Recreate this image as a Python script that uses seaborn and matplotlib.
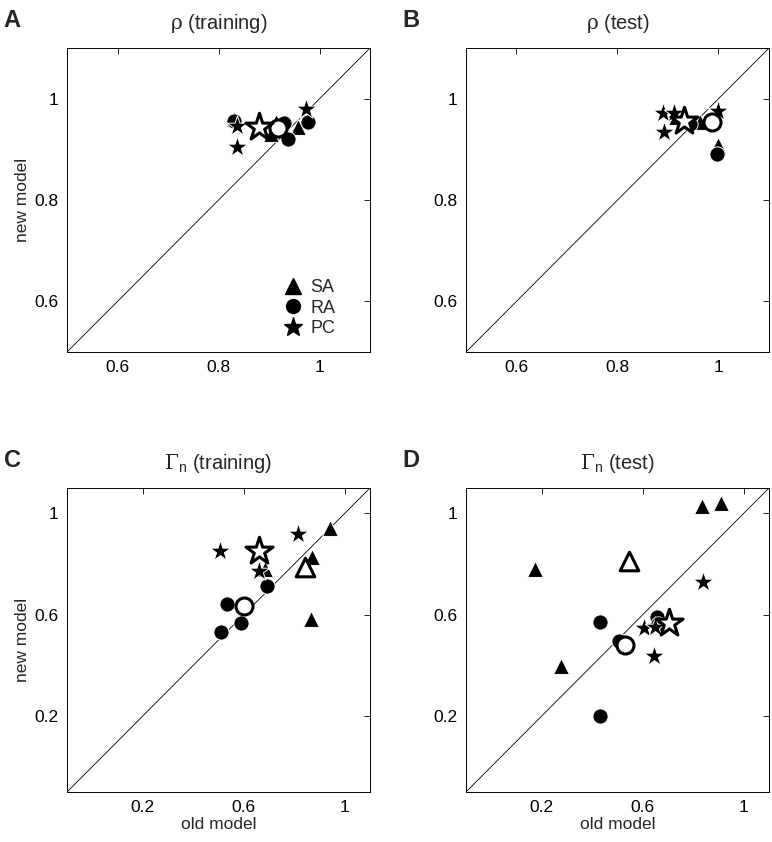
import seaborn as sns
sns.set_theme(style="white")

import matplotlib.pyplot as plt
from matplotlib.lines import Line2D

plt.rcParams['font.family'] = ['Liberation Sans', 'DejaVu Sans']
plt.rcParams['mathtext.fontset'] = 'custom'
plt.rcParams['mathtext.rm'] = 'DejaVu Serif'
plt.rcParams['mathtext.sf'] = 'Liberation Sans'

# Panel A: rho (training)
a_sa_x = [0.830, 0.903, 0.913, 0.958]
a_sa_y = [0.960, 0.930, 0.955, 0.945]
a_ra_x = [0.830, 0.929, 0.937, 0.978]
a_ra_y = [0.956, 0.952, 0.921, 0.954]
a_pc_x = [0.836, 0.836, 0.974]
a_pc_y = [0.947, 0.905, 0.980]
a_mean_ra = (0.917, 0.943)
a_mean_pc = (0.881, 0.945)

# Panel B: rho (test)
b_sa_x = [0.916, 0.963, 0.999]
b_sa_y = [0.964, 0.954, 0.909]
b_ra_x = [0.944, 0.997]
b_ra_y = [0.950, 0.891]
b_pc_x = [0.890, 0.912, 0.892, 0.999]
b_pc_y = [0.972, 0.972, 0.935, 0.976]
b_mean_ra = (0.987, 0.954)
b_mean_pc = (0.932, 0.956)

# Panel C: Gamma_n (training)
c_sa_x = [0.942, 0.870, 0.866, 0.685]
c_sa_y = [0.942, 0.827, 0.581, 0.780]
c_ra_x = [0.534, 0.589, 0.510, 0.692]
c_ra_y = [0.641, 0.569, 0.530, 0.712]
c_pc_x = [0.506, 0.815, 0.660]
c_pc_y = [0.850, 0.918, 0.771]
c_mean_sa = (0.843, 0.787)
c_mean_ra = (0.601, 0.633)
c_mean_pc = (0.660, 0.850)

# Panel D: Gamma_n (test)
d_sa_x = [0.173, 0.276, 0.835, 0.910]
d_sa_y = [0.779, 0.399, 1.029, 1.041]
d_ra_x = [0.431, 0.656, 0.431, 0.506, 0.660]
d_ra_y = [0.573, 0.589, 0.201, 0.498, 0.565]
d_pc_x = [0.839, 0.605, 0.645, 0.650]
d_pc_y = [0.728, 0.549, 0.435, 0.553]
d_mean_sa = (0.546, 0.811)
d_mean_ra = (0.530, 0.482)
d_mean_pc = (0.704, 0.569)

panels = [
    dict(letter='A', title=r'$\mathrm{ρ}$ (training)', pos=[0.0868, 0.5819],
         sa=(a_sa_x, a_sa_y), ra=(a_ra_x, a_ra_y), pc=(a_pc_x, a_pc_y),
         means=[('o', a_mean_ra), ('*', a_mean_pc)],
         lim=(0.5, 1.1), ticks=[0.6, 0.8, 1], labels=['0.6', '0.8', '1']),
    dict(letter='B', title=r'$\mathrm{ρ}$ (test)', pos=[0.6036, 0.5819],
         sa=(b_sa_x, b_sa_y), ra=(b_ra_x, b_ra_y), pc=(b_pc_x, b_pc_y),
         means=[('o', b_mean_ra), ('*', b_mean_pc)],
         lim=(0.5, 1.1), ticks=[0.6, 0.8, 1], labels=['0.6', '0.8', '1']),
    dict(letter='C', title=r'$\mathrm{Γ}_{\mathsf{n}}$ (training)', pos=[0.0868, 0.0594],
         sa=(c_sa_x, c_sa_y), ra=(c_ra_x, c_ra_y), pc=(c_pc_x, c_pc_y),
         means=[('^', c_mean_sa), ('o', c_mean_ra), ('*', c_mean_pc)],
         lim=(-0.1, 1.1), ticks=[0.2, 0.6, 1], labels=['0.2', '0.6', '1']),
    dict(letter='D', title=r'$\mathrm{Γ}_{\mathsf{n}}$ (test)', pos=[0.6036, 0.0594],
         sa=(d_sa_x, d_sa_y), ra=(d_ra_x, d_ra_y), pc=(d_pc_x, d_pc_y),
         means=[('^', d_mean_sa), ('o', d_mean_ra), ('*', d_mean_pc)],
         lim=(-0.1, 1.1), ticks=[0.2, 0.6, 1], labels=['0.2', '0.6', '1']),
]

fig = plt.figure(figsize=(7.72, 8.42), dpi=100)

for i, p in enumerate(panels):
    ax = fig.add_axes([p['pos'][0], p['pos'][1], 0.3925, 0.3610])
    lo, hi = p['lim']
    ax.plot([lo, hi], [lo, hi], color='black', linewidth=0.6, zorder=1)

    # filled markers for individual cells
    sns.scatterplot(x=p['sa'][0], y=p['sa'][1], marker='^', s=130, color='black',
                    edgecolor='white', linewidth=0.7, ax=ax, zorder=3)
    sns.scatterplot(x=p['ra'][0], y=p['ra'][1], marker='o', s=120, color='black',
                    edgecolor='white', linewidth=0.7, ax=ax, zorder=3)
    sns.scatterplot(x=p['pc'][0], y=p['pc'][1], marker='*', s=240, color='black',
                    edgecolor='white', linewidth=0.7, ax=ax, zorder=3)

    # open markers for population means
    for m, (mx, my) in p['means']:
        size = {'^': 180, 'o': 150, '*': 420}[m]
        sns.scatterplot(x=[mx], y=[my], marker=m, s=size, color='white',
                        edgecolor='black', linewidth=2.2, ax=ax, zorder=4)

    ax.set_xlim(lo, hi)
    ax.set_ylim(lo, hi)
    ax.set_xticks(p['ticks'])
    ax.set_yticks(p['ticks'])
    ax.set_xticklabels(p['labels'])
    ax.set_yticklabels(p['labels'])
    ax.tick_params(direction='in', length=4, width=0.6, top=True, right=True,
                   labelsize=12.5, colors='black', pad=6)
    for sp in ax.spines.values():
        sp.set_color('black')
        sp.set_linewidth(0.7)
    ax.set_title(p['title'], fontsize=14.5, pad=14)
    if i in (0, 2):
        ax.set_ylabel('new model', fontsize=12.5, labelpad=3)
    if i in (2, 3):
        ax.set_xlabel('old model', fontsize=12.5, labelpad=1)
    fig.text(p['pos'][0] - 0.082, p['pos'][1] + 0.3610 + 0.046, p['letter'],
             fontsize=17, fontweight='bold', va='top', ha='left')

    if i == 0:
        handles = [Line2D([], [], marker='^', linestyle='none', color='black', markersize=11),
                   Line2D([], [], marker='o', linestyle='none', color='black', markersize=10),
                   Line2D([], [], marker='*', linestyle='none', color='black', markersize=14)]
        ax.legend(handles, ['SA', 'RA', 'PC'], loc='lower right', frameon=False,
                  fontsize=13, handletextpad=0.4, labelspacing=0.2,
                  bbox_to_anchor=(0.94, -0.005), handlelength=1.2)

fig.savefig('out.png', dpi=100)
